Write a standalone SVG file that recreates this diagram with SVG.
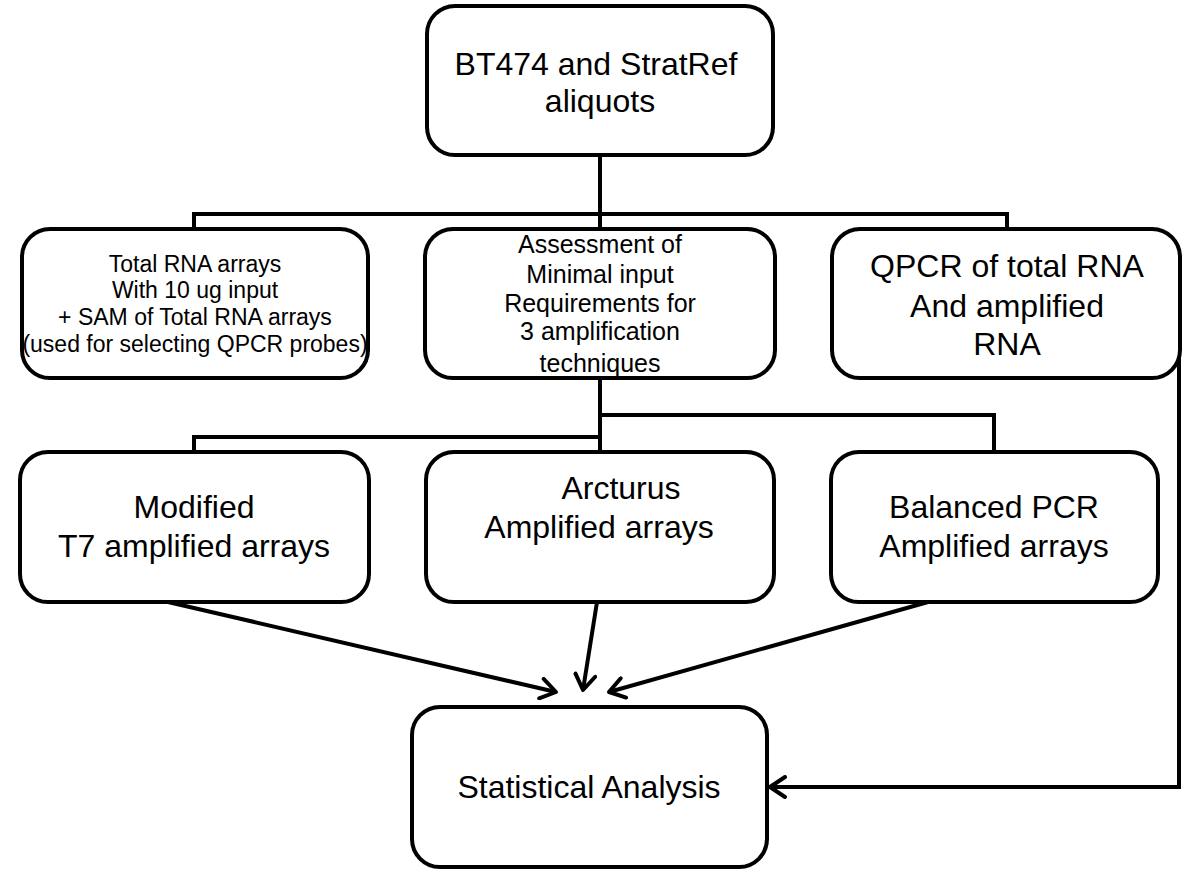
<svg xmlns="http://www.w3.org/2000/svg" width="1200" height="880" viewBox="0 0 1200 880">
<style>
.box{fill:#fff;stroke:#000;stroke-width:4}
.t{font-family:"Liberation Sans",Arial,sans-serif;fill:#000;text-anchor:middle}
.c{fill:none;stroke:#000;stroke-width:4;stroke-linejoin:miter}
</style>
<defs>
<marker id="ah" markerUnits="userSpaceOnUse" viewBox="0 0 24 24" markerWidth="24" markerHeight="24" refX="21" refY="12" orient="auto">
<path d="M6,2 L21,12 L6,22" fill="none" stroke="#000" stroke-width="4" stroke-linecap="round" stroke-linejoin="round"/>
</marker>
</defs>
<rect width="1200" height="880" fill="#fff"/>
<g id="connectors">
<path class="c" d="M600,155 V214 M194,231 V214 H1007 V231 M600,214 V231"/>
<path class="c" d="M600,378 V454 M600,415 H994 V454 M194,454 V437 H600"/>
<path class="c" d="M168,602 L556,692" marker-end="url(#ah)"/>
<path class="c" d="M597,602 L583,690" marker-end="url(#ah)"/>
<path class="c" d="M928,602 L609,692" marker-end="url(#ah)"/>
<path class="c" d="M1179,355 V787 H770" marker-end="url(#ah)"/>
</g>
<g id="n-top">
<rect class="box" x="427" y="6" width="346" height="149" rx="28"/>
<text class="t" font-size="32" x="596" y="75">BT474 and StratRef</text>
<text class="t" font-size="32" x="600" y="112">aliquots</text>
</g>
<g id="n-total">
<rect class="box" x="22" y="229" width="346" height="149" rx="28"/>
<text class="t" font-size="23" x="195" y="272">Total RNA arrays</text>
<text class="t" font-size="23" x="195" y="298">With 10 ug input</text>
<text class="t" font-size="23" x="195" y="325">+ SAM of Total RNA arrays</text>
<text class="t" font-size="23" x="195" y="352">(used for selecting QPCR probes)</text>
</g>
<g id="n-assess">
<rect class="box" x="425" y="229" width="350" height="149" rx="28"/>
<text class="t" font-size="25" x="600" y="253">Assessment of</text>
<text class="t" font-size="25" x="600" y="283">Minimal input</text>
<text class="t" font-size="25" x="600" y="312">Requirements for</text>
<text class="t" font-size="25" x="600" y="340">3 amplification</text>
<text class="t" font-size="25" x="600" y="372">techniques</text>
</g>
<g id="n-qpcr">
<rect class="box" x="832" y="229" width="348" height="149" rx="28"/>
<text class="t" font-size="32" x="1007" y="277">QPCR of total RNA</text>
<text class="t" font-size="32" x="1007" y="317">And amplified</text>
<text class="t" font-size="32" x="1007" y="355">RNA</text>
</g>
<g id="n-t7">
<rect class="box" x="20" y="452" width="349" height="150" rx="28"/>
<text class="t" font-size="32" x="194" y="518">Modified</text>
<text class="t" font-size="32" x="194" y="557">T7 amplified arrays</text>
</g>
<g id="n-arcturus">
<rect class="box" x="426" y="452" width="348" height="150" rx="28"/>
<text class="t" font-size="32" x="621" y="499">Arcturus</text>
<text class="t" font-size="32" x="599" y="538">Amplified arrays</text>
</g>
<g id="n-balanced">
<rect class="box" x="831" y="452" width="327" height="150" rx="28"/>
<text class="t" font-size="32" x="994" y="518">Balanced PCR</text>
<text class="t" font-size="32" x="994" y="557">Amplified arrays</text>
</g>
<g id="n-stat">
<rect class="box" x="412" y="707" width="355" height="160" rx="28"/>
<text class="t" font-size="32" x="589" y="798">Statistical Analysis</text>
</g>
</svg>
